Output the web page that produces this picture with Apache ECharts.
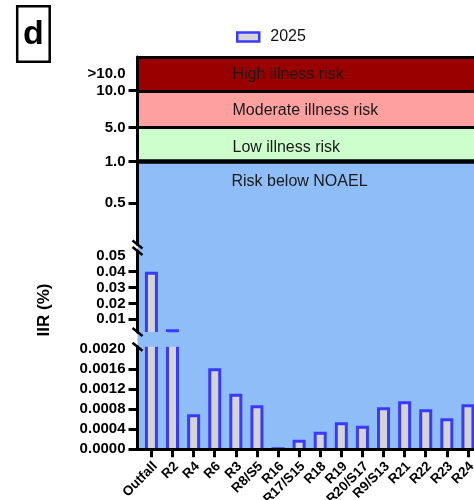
<!DOCTYPE html>
<html>
<head>
<meta charset="utf-8">
<script src="https://cdn.jsdelivr.net/npm/echarts@6/dist/echarts.min.js"></script>
<style>
  html, body { margin: 0; padding: 0; background: #ffffff; }
  #chart { width: 474px; height: 500px; }
</style>
</head>
<body>
<div id="chart"></div>
<script>
// Sampling sites along the x axis
const categories = ['Outfall', 'R2', 'R4', 'R6', 'R3', 'R8/S5', 'R16', 'R17/S15',
  'R18', 'R19', 'R20/S17', 'R9/S13', 'R21', 'R22', 'R23', 'R24'];

// Illness infection risk (%) for 2025
const iir2025 = [0.039, 0.0028, 0.00067, 0.00159, 0.00108, 0.00085, 0.00001, 0.00016,
  0.00032, 0.00051, 0.00044, 0.00081, 0.00093, 0.00077, 0.00059, 0.00087];

// Risk classes (thresholds in %)
const riskEdges = [1, 5, 10];
const riskNames = ['Risk below NOAEL', 'Low illness risk', 'Moderate illness risk', 'High illness risk'];

// Tick labels of the three axis segments
const topTicks = [0.5, 1, 5, 10];
const midTicks = [0.01, 0.02, 0.03, 0.04, 0.05];
const lowTicks = [0, 0.0004, 0.0008, 0.0012, 0.0016, 0.002];

// ---- layout ----
const FONT = 'Liberation Sans, Arial, Helvetica, sans-serif';
const LEFT = 137.5;
const X_MIN = -0.66, X_MAX = 16.2, X_STEP_PX = 21.1;
const PLOT_W = (X_MAX - X_MIN) * X_STEP_PX;
const X_LABEL_SHIFT = 0.18;   // rotated site names sit slightly right of their ticks
// upper segment uses display units: linear up to 1, compressed bands above
const D5 = 1.41, D10 = 1.855, D_TOP = 2.259;
const MID_RANGE = [0.002, 0.053];
const LOW_RANGE = [0, 0.00205];
const BAR_RATIO = 0.474;

const COLORS = {
  noael: '#8fbdf8', low: '#ccffcc', moderate: '#ffa0a0', high: '#9b0000',
  barFill: '#d4d4d4', barEdge: '#3a3aff', ink: '#000000'
};

function toDisplay(v) {
  const anchors = [[0, 0], [riskEdges[0], 1], [riskEdges[1], D5], [riskEdges[2], D10]];
  for (let k = 1; k < anchors.length; k++) {
    const [v0, d0] = anchors[k - 1], [v1, d1] = anchors[k];
    if (v <= v1) return d0 + (v - v0) / (v1 - v0) * (d1 - d0);
  }
  return D10;
}

const topLabelDefs = topTicks.map(v => ({ d: toDisplay(v), text: v.toFixed(1) }))
  .concat([{ d: (D10 + D_TOP) / 2, text: '>' + riskEdges[2].toFixed(1) }]);

function nearestLabel(defs, value) {
  let best = defs[0];
  defs.forEach(o => { if (Math.abs(o.d - value) < Math.abs(best.d - value)) best = o; });
  return best.text;
}

const labelStyle = { color: COLORS.ink, fontFamily: FONT, fontWeight: 'bold', fontSize: 15, margin: 12 };
const tickStyle = { show: true, length: 9, lineStyle: { color: COLORS.ink, width: 3 } };
const axisLine = { show: true, onZero: false, lineStyle: { color: COLORS.ink, width: 3 } };

function yAxisBase(gridIndex, min, max) {
  return {
    type: 'value', gridIndex, min, max, z: 10,
    axisLine: axisLine, splitLine: { show: false }
  };
}

function xAxisBase(gridIndex) {
  return {
    type: 'value', gridIndex, min: X_MIN, max: X_MAX, z: 10,
    splitLine: { show: false }, axisLabel: { show: false }, axisTick: { show: false },
    axisLine: { show: false, onZero: false }
  };
}

function gridBox(top, height) {
  return { left: LEFT, top, width: PLOT_W, height, containLabel: false, outerBoundsMode: 'none' };
}

// bars: fill plus left/top/right edges; edges cut by a segment limit are left open
function makeRender(lo, hi) {
  return function (params, api) {
    const i = api.value(0), v = api.value(1);
    if (!(v > lo)) return null;
    const half = api.size([1, 0])[0] * BAR_RATIO / 2;
    const base = api.coord([i, lo]);
    const top = api.coord([i, Math.min(v, hi)]);
    const x = base[0];
    const edge = { stroke: COLORS.barEdge, lineWidth: 3, fill: null };
    const children = [{
      type: 'rect',
      shape: { x: x - half, y: top[1], width: 2 * half, height: base[1] - top[1] },
      style: { fill: COLORS.barFill }
    }];
    if (v <= hi) {
      children.push({ type: 'polyline',
        shape: { points: [[x - half, base[1]], [x - half, top[1]], [x + half, top[1]], [x + half, base[1]]] },
        style: edge });
    } else {
      children.push({ type: 'line', shape: { x1: x - half, y1: base[1], x2: x - half, y2: top[1] }, style: edge });
      children.push({ type: 'line', shape: { x1: x + half, y1: base[1], x2: x + half, y2: top[1] }, style: edge });
    }
    return { type: 'group', children };
  };
}

const barData = iir2025.map((v, i) => [i, v]);

const bandLabel = (dy) => ({
  show: true, position: 'insideLeft', distance: 5, offset: [90, dy],
  color: '#1a1a1a', fontFamily: FONT, fontSize: 16
});

const option = {
  animation: false,
  backgroundColor: '#ffffff',
  legend: {
    left: 231, top: 24, itemWidth: 22, itemHeight: 9,
    data: [{ name: '2025', icon: 'rect',
      itemStyle: { color: COLORS.barFill, borderColor: COLORS.barEdge, borderWidth: 2.5 } }],
    textStyle: { color: '#111', fontFamily: FONT, fontSize: 16, padding: [0, 0, 0, 6] }
  },
  grid: [gridBox(57, 187.5), gridBox(251, 81), gridBox(346.8, 102.5)],
  xAxis: [
    Object.assign(xAxisBase(0), { position: 'top', axisLine: axisLine }),
    xAxisBase(1),
    Object.assign(xAxisBase(2), {
      axisLine: axisLine,
      axisTick: { show: true, length: 8, lineStyle: { color: COLORS.ink, width: 3 },
        customValues: categories.map((c, i) => i) },
      axisLabel: { show: true, rotate: 45, margin: 15, color: COLORS.ink, fontFamily: FONT,
        fontWeight: 'bold', fontSize: 13.5,
        customValues: categories.map((c, i) => i + X_LABEL_SHIFT),
        formatter: v => categories[Math.round(v - X_LABEL_SHIFT)] }
    })
  ],
  yAxis: [
    Object.assign(yAxisBase(0, 0, D_TOP), {
      axisTick: Object.assign({ customValues: topTicks.map(toDisplay) }, tickStyle),
      axisLabel: Object.assign({ customValues: topLabelDefs.map(o => o.d),
        formatter: v => nearestLabel(topLabelDefs, v) }, labelStyle)
    }),
    Object.assign(yAxisBase(1, MID_RANGE[0], MID_RANGE[1]), {
      axisTick: Object.assign({ customValues: midTicks.slice(0, -1) }, tickStyle),
      axisLabel: Object.assign({ customValues: midTicks, formatter: v => v.toFixed(2) }, labelStyle)
    }),
    Object.assign(yAxisBase(2, LOW_RANGE[0], LOW_RANGE[1]), {
      axisTick: Object.assign({ customValues: lowTicks.slice(0, -1) }, tickStyle),
      axisLabel: Object.assign({ customValues: lowTicks, formatter: v => v.toFixed(4) }, labelStyle)
    })
  ],
  series: [
    {
      // risk classes of the upper segment
      type: 'line', xAxisIndex: 0, yAxisIndex: 0, data: [], silent: true,
      markArea: {
        silent: true,
        data: [
          [{ yAxis: 0, itemStyle: { color: COLORS.noael },
             label: Object.assign(bandLabel(0), { position: 'insideTopLeft', offset: [89, 7] }),
             name: riskNames[0] }, { yAxis: toDisplay(riskEdges[0]) }],
          [{ yAxis: toDisplay(riskEdges[0]), itemStyle: { color: COLORS.low },
             label: bandLabel(3), name: riskNames[1] }, { yAxis: toDisplay(riskEdges[1]) }],
          [{ yAxis: toDisplay(riskEdges[1]), itemStyle: { color: COLORS.moderate },
             label: bandLabel(2), name: riskNames[2] }, { yAxis: toDisplay(riskEdges[2]) }],
          [{ yAxis: toDisplay(riskEdges[2]), itemStyle: { color: COLORS.high },
             label: bandLabel(1), name: riskNames[3] }, { yAxis: D_TOP }]
        ]
      },
      markLine: {
        silent: true, symbol: 'none', label: { show: false },
        data: riskEdges.map((e, k) => ({ yAxis: toDisplay(e),
          lineStyle: { color: COLORS.ink, type: 'solid', width: k === 0 ? 4.5 : 3 } }))
      }
    },
    {
      name: '2025', type: 'custom', xAxisIndex: 1, yAxisIndex: 1,
      renderItem: makeRender(MID_RANGE[0], MID_RANGE[1]), data: barData,
      encode: { x: 0, y: 1 }, itemStyle: { color: COLORS.barFill }
    },
    {
      name: '2025', type: 'custom', xAxisIndex: 2, yAxisIndex: 2,
      renderItem: makeRender(LOW_RANGE[0], LOW_RANGE[1]), data: barData,
      encode: { x: 0, y: 1 }, itemStyle: { color: COLORS.barFill }
    }
  ]
};

const chart = echarts.init(document.getElementById('chart'), null, { renderer: 'canvas' });
chart.setOption(option);

// decorations placed from the axis scales: background below NOAEL, axis breaks, titles
const yPx = (idx, v) => chart.convertToPixel({ yAxisIndex: idx }, v);
const xLeft = chart.convertToPixel({ xAxisIndex: 2 }, X_MIN);
const xRight = chart.convertToPixel({ xAxisIndex: 2 }, X_MAX);
const yNoael = yPx(0, toDisplay(riskEdges[0]));
const yZero = yPx(2, 0);

const breakAt = [yPx(0, 0), yPx(1, MID_RANGE[1]), yPx(1, MID_RANGE[0]), yPx(2, LOW_RANGE[1])];
const breakMarks = breakAt.map(y => ({
  type: 'line', z: 20,
  shape: { x1: xLeft - 5, y1: y - 4, x2: xLeft + 5, y2: y + 4 },
  style: { stroke: COLORS.ink, lineWidth: 2.5 }
}));

chart.setOption({
  graphic: [
    { type: 'rect', z: -5, silent: true,
      shape: { x: xLeft, y: yNoael, width: xRight - xLeft, height: yZero - yNoael },
      style: { fill: COLORS.noael } },
    ...breakMarks,
    { type: 'text', x: 44, y: 310, rotation: Math.PI / 2,
      style: { text: 'IIR (%)', fill: COLORS.ink, font: 'bold 17px ' + FONT,
        textAlign: 'center', textVerticalAlign: 'middle' } },
    { type: 'rect', shape: { x: 17.2, y: 6.2, width: 32.5, height: 55.5 },
      style: { fill: '#ffffff', stroke: COLORS.ink, lineWidth: 2.5 } },
    { type: 'text', x: 33.5, y: 35,
      style: { text: 'd', fill: COLORS.ink, font: 'bold 34px ' + FONT,
        textAlign: 'center', textVerticalAlign: 'middle' } }
  ]
});
</script>
</body>
</html>
